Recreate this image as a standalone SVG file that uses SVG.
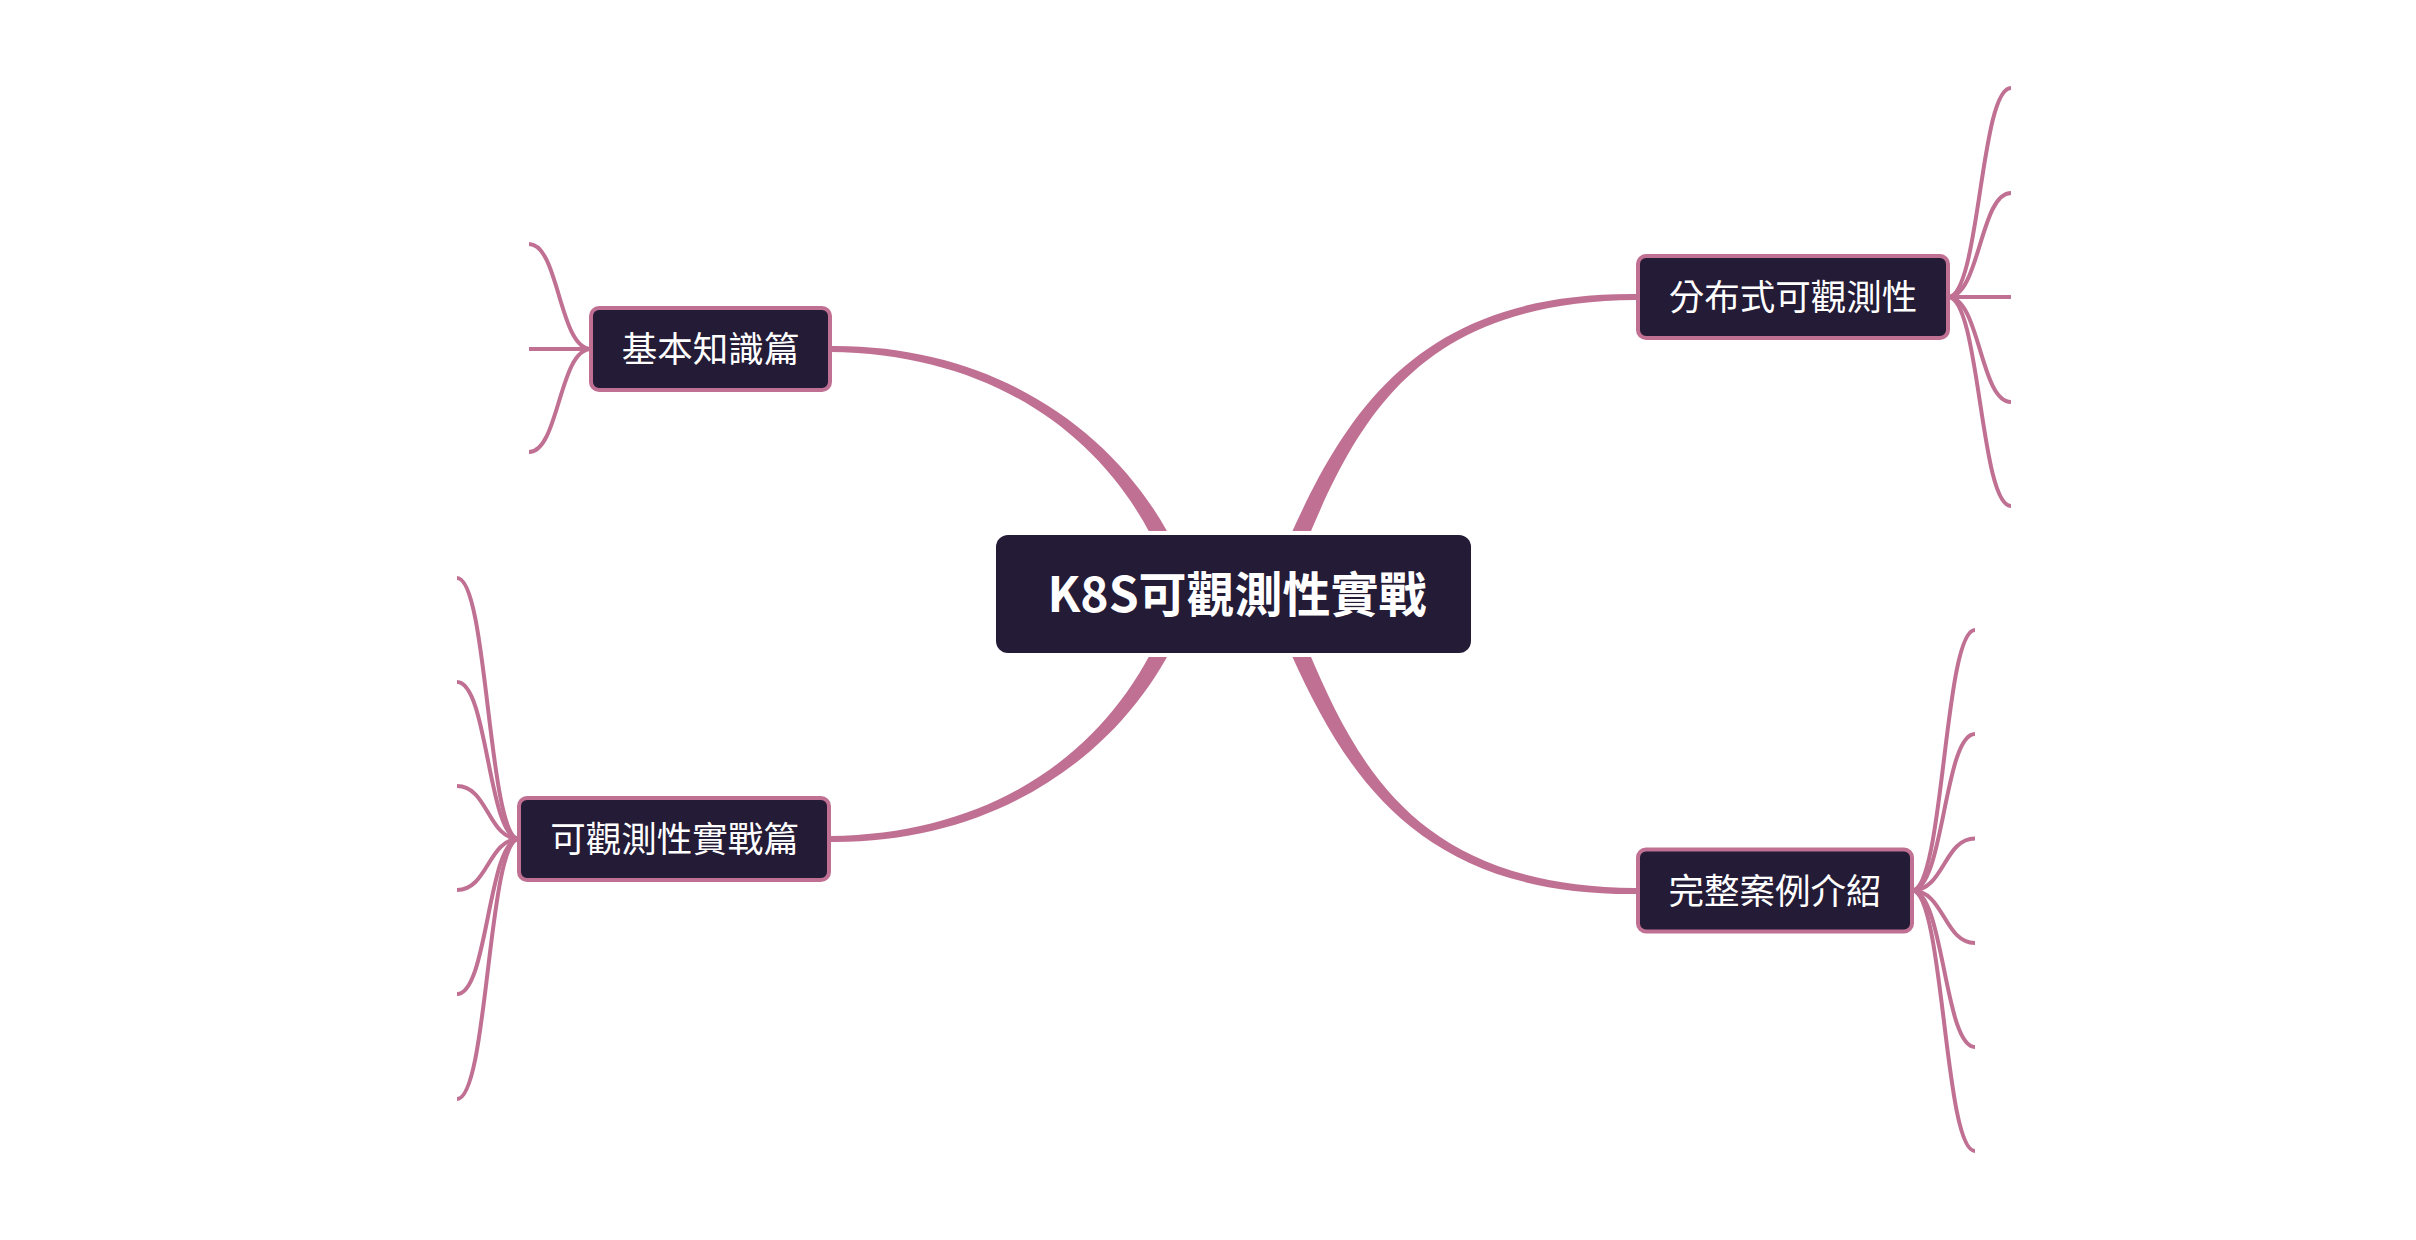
<svg xmlns="http://www.w3.org/2000/svg" width="2416" height="1240" viewBox="0 0 2416 1240">
<style>
.main{fill:#c07092;stroke:none}
.sub{fill:none;stroke:#c07092;stroke-width:4;stroke-linecap:butt}
.box{fill:#241b36;stroke:#c07092;stroke-width:4}
.lbl{font-family:"Noto Sans CJK TC","Noto Sans CJK SC",sans-serif;font-size:35.5px;fill:#ffffff;text-anchor:middle}
.root{font-family:"Noto Sans CJK TC","Noto Sans CJK SC",sans-serif;font-size:48px;font-weight:bold;fill:#ffffff;text-anchor:middle}
</style>
<rect width="2416" height="1240" fill="#ffffff"/>
<g id="connectors">
<path class="main" d="M830,352 C1000,353.83 1113.88,442.65 1164.2,563.38 L1179.8,556.62 C1126.12,437.35 1000,344.17 830,346 Z"/>
<path class="main" d="M830,836 C1000,834.17 1113.88,745.35 1164.2,624.62 L1179.8,631.38 C1126.12,750.65 1000,843.83 830,842 Z"/>
<path class="main" d="M1636,294 C1422,292.17 1347.89,409.32 1292.21,531.58 L1282.16,554.48 L1297.74,561.32 L1307.79,538.42 C1360.11,414.68 1422,301.83 1636,300 Z"/>
<path class="main" d="M1636,894 C1422,895.83 1347.89,778.68 1292.21,656.42 L1282.16,633.52 L1297.74,626.68 L1307.79,649.58 C1360.11,773.32 1422,886.17 1636,888 Z"/>
<path class="sub" d="M591,349 C559,349 559,244 529,244"/>
<path class="sub" d="M591,349 L529,349"/>
<path class="sub" d="M591,349 C559,349 559,452 529,452"/>
<path class="sub" d="M1948,297 C1980,297 1980,88 2011,88"/>
<path class="sub" d="M1948,297 C1980,297 1980,193 2011,193"/>
<path class="sub" d="M1948,297 L2011,297"/>
<path class="sub" d="M1948,297 C1980,297 1980,402 2011,402"/>
<path class="sub" d="M1948,297 C1980,297 1980,506 2011,506"/>
<path class="sub" d="M519,839 C488,839 488,578 457,578"/>
<path class="sub" d="M519,839 C488,839 488,682 457,682"/>
<path class="sub" d="M519,839 C488,839 488,786 457,786"/>
<path class="sub" d="M519,839 C488,839 488,890 457,890"/>
<path class="sub" d="M519,839 C488,839 488,994 457,994"/>
<path class="sub" d="M519,839 C488,839 488,1099 457,1099"/>
<path class="sub" d="M1912,890.5 C1944,890.5 1944,630 1975,630"/>
<path class="sub" d="M1912,890.5 C1944,890.5 1944,734 1975,734"/>
<path class="sub" d="M1912,890.5 C1944,890.5 1944,838.5 1975,838.5"/>
<path class="sub" d="M1912,890.5 C1944,890.5 1944,943 1975,943"/>
<path class="sub" d="M1912,890.5 C1944,890.5 1944,1047 1975,1047"/>
<path class="sub" d="M1912,890.5 C1944,890.5 1944,1151 1975,1151"/>
</g>
<g id="root">
<rect x="992" y="531" width="483" height="126" rx="15" fill="#ffffff"/>
<rect x="996" y="535" width="475" height="118" rx="12" fill="#241b36"/>
<text class="root" x="1237" y="612">K8S可觀測性實戰</text>
</g>
<g id="node-basic">
<rect class="box" x="591" y="308" width="239" height="82" rx="8"/>
<text class="lbl" x="710.5" y="362">基本知識篇</text>
</g>
<g id="node-practice">
<rect class="box" x="519" y="798" width="310" height="82" rx="8"/>
<text class="lbl" x="674.5" y="852">可觀測性實戰篇</text>
</g>
<g id="node-distributed">
<rect class="box" x="1638" y="256" width="310" height="82" rx="8"/>
<text class="lbl" x="1793" y="310">分布式可觀測性</text>
</g>
<g id="node-case">
<rect class="box" x="1638" y="849.5" width="274" height="82" rx="8"/>
<text class="lbl" x="1775" y="903.5">完整案例介紹</text>
</g>
</svg>
